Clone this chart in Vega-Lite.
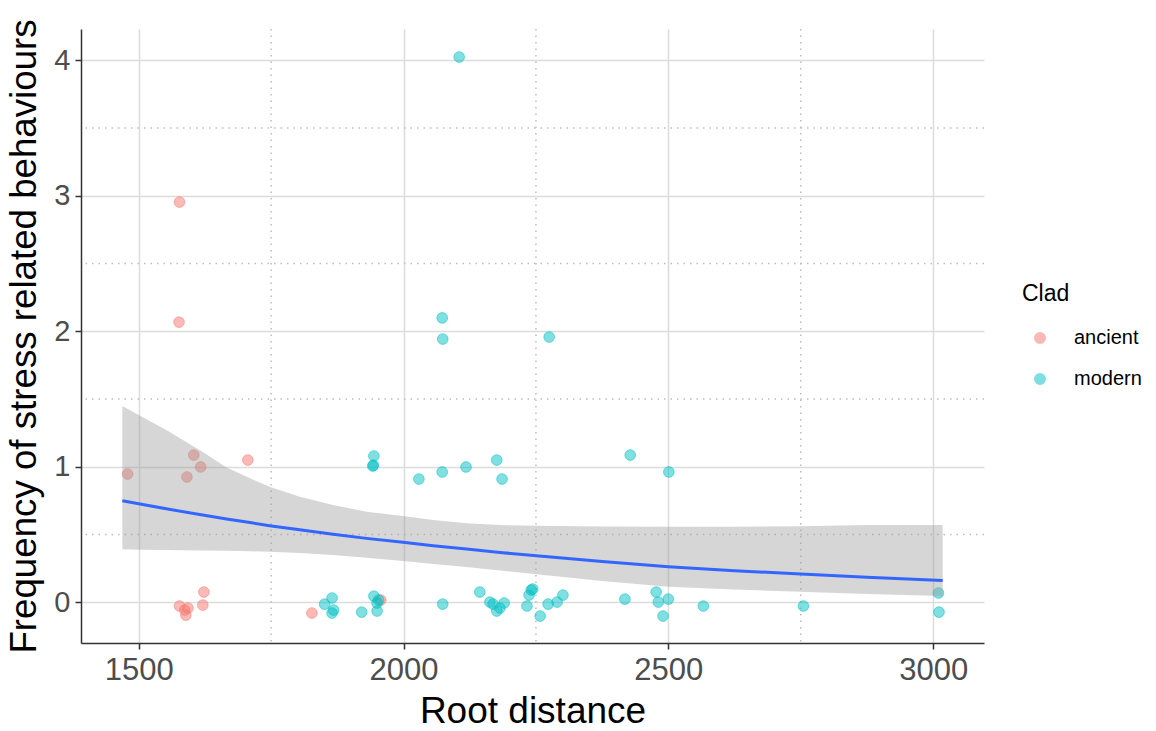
{
  "$schema": "https://vega.github.io/schema/vega-lite/v6.json",
  "autosize": {"type": "none"},
  "width": 903,
  "height": 614,
  "padding": {"left": 81, "top": 29, "right": 172, "bottom": 88},
  "background": "white",
  "config": {
    "font": "Liberation Sans",
    "view": {"stroke": null},
    "axis": {
      "domainColor": "#333333", "domainWidth": 1.5,
      "tickColor": "#333333", "tickWidth": 1.5, "tickSize": 6,
      "gridColor": "#DCDCDC", "gridWidth": 1.5,
      "labelColor": "#4D4D4D", "labelFont": "Liberation Sans",
      "titleColor": "#000000", "titleFont": "Liberation Sans", "titleFontWeight": "normal"
    }
  },
  "datasets": {
    "pts": [
      {"root": 1479, "freq": 0.947, "clad": "ancient"},
      {"root": 1577, "freq": 2.954, "clad": "ancient"},
      {"root": 1576, "freq": 2.068, "clad": "ancient"},
      {"root": 1604, "freq": 1.087, "clad": "ancient"},
      {"root": 1617, "freq": 0.999, "clad": "ancient"},
      {"root": 1591, "freq": 0.925, "clad": "ancient"},
      {"root": 1706, "freq": 1.050, "clad": "ancient"},
      {"root": 1577, "freq": -0.027, "clad": "ancient"},
      {"root": 1587, "freq": -0.057, "clad": "ancient"},
      {"root": 1589, "freq": -0.094, "clad": "ancient"},
      {"root": 1593, "freq": -0.042, "clad": "ancient"},
      {"root": 1623, "freq": 0.076, "clad": "ancient"},
      {"root": 1621, "freq": -0.020, "clad": "ancient"},
      {"root": 1827, "freq": -0.079, "clad": "ancient"},
      {"root": 1957, "freq": 0.017, "clad": "ancient"},
      {"root": 1851, "freq": -0.013, "clad": "modern"},
      {"root": 1865, "freq": 0.032, "clad": "modern"},
      {"root": 1868, "freq": -0.057, "clad": "modern"},
      {"root": 1865, "freq": -0.079, "clad": "modern"},
      {"root": 1921, "freq": -0.072, "clad": "modern"},
      {"root": 1944, "freq": 0.046, "clad": "modern"},
      {"root": 1950, "freq": -0.064, "clad": "modern"},
      {"root": 1950, "freq": -0.005, "clad": "modern"},
      {"root": 1953, "freq": 0.017, "clad": "modern"},
      {"root": 2074, "freq": -0.013, "clad": "modern"},
      {"root": 2144, "freq": 0.076, "clad": "modern"},
      {"root": 2163, "freq": 0.002, "clad": "modern"},
      {"root": 2169, "freq": -0.013, "clad": "modern"},
      {"root": 2176, "freq": -0.064, "clad": "modern"},
      {"root": 2190, "freq": -0.005, "clad": "modern"},
      {"root": 2182, "freq": -0.042, "clad": "modern"},
      {"root": 2233, "freq": -0.027, "clad": "modern"},
      {"root": 2237, "freq": 0.054, "clad": "modern"},
      {"root": 2241, "freq": 0.091, "clad": "modern"},
      {"root": 2244, "freq": 0.098, "clad": "modern"},
      {"root": 2258, "freq": -0.101, "clad": "modern"},
      {"root": 2273, "freq": -0.013, "clad": "modern"},
      {"root": 2290, "freq": 0.002, "clad": "modern"},
      {"root": 2301, "freq": 0.054, "clad": "modern"},
      {"root": 2418, "freq": 0.024, "clad": "modern"},
      {"root": 2477, "freq": 0.076, "clad": "modern"},
      {"root": 2481, "freq": 0.002, "clad": "modern"},
      {"root": 2500, "freq": 0.024, "clad": "modern"},
      {"root": 2490, "freq": -0.101, "clad": "modern"},
      {"root": 2566, "freq": -0.027, "clad": "modern"},
      {"root": 2755, "freq": -0.027, "clad": "modern"},
      {"root": 3010, "freq": 0.069, "clad": "modern"},
      {"root": 3011, "freq": -0.072, "clad": "modern"},
      {"root": 1944, "freq": 1.080, "clad": "modern"},
      {"root": 1942, "freq": 1.006, "clad": "modern"},
      {"root": 1943, "freq": 1.012, "clad": "modern"},
      {"root": 2029, "freq": 0.910, "clad": "modern"},
      {"root": 2073, "freq": 0.962, "clad": "modern"},
      {"root": 2118, "freq": 0.999, "clad": "modern"},
      {"root": 2176, "freq": 1.050, "clad": "modern"},
      {"root": 2186, "freq": 0.910, "clad": "modern"},
      {"root": 2105, "freq": 4.024, "clad": "modern"},
      {"root": 2073, "freq": 2.099, "clad": "modern"},
      {"root": 2074, "freq": 1.943, "clad": "modern"},
      {"root": 2275, "freq": 1.958, "clad": "modern"},
      {"root": 2428, "freq": 1.087, "clad": "modern"},
      {"root": 2501, "freq": 0.962, "clad": "modern"}
    ],
    "fit": [
      {"root": 1469, "fit": 0.750, "lo": 0.391, "hi": 1.449},
      {"root": 1500, "fit": 0.727, "lo": 0.389, "hi": 1.382},
      {"root": 1552, "fit": 0.690, "lo": 0.386, "hi": 1.271},
      {"root": 1615, "fit": 0.648, "lo": 0.383, "hi": 1.124},
      {"root": 1666, "fit": 0.615, "lo": 0.380, "hi": 0.996},
      {"root": 1710, "fit": 0.589, "lo": 0.377, "hi": 0.915},
      {"root": 1747, "fit": 0.566, "lo": 0.373, "hi": 0.853},
      {"root": 1804, "fit": 0.535, "lo": 0.364, "hi": 0.779},
      {"root": 1867, "fit": 0.502, "lo": 0.349, "hi": 0.718},
      {"root": 1930, "fit": 0.472, "lo": 0.330, "hi": 0.669},
      {"root": 1999, "fit": 0.443, "lo": 0.305, "hi": 0.637},
      {"root": 2056, "fit": 0.418, "lo": 0.283, "hi": 0.607},
      {"root": 2119, "fit": 0.393, "lo": 0.260, "hi": 0.583},
      {"root": 2182, "fit": 0.368, "lo": 0.235, "hi": 0.570},
      {"root": 2251, "fit": 0.344, "lo": 0.207, "hi": 0.565},
      {"root": 2375, "fit": 0.302, "lo": 0.157, "hi": 0.560},
      {"root": 2500, "fit": 0.263, "lo": 0.115, "hi": 0.558},
      {"root": 2625, "fit": 0.234, "lo": 0.094, "hi": 0.558},
      {"root": 2750, "fit": 0.209, "lo": 0.078, "hi": 0.562},
      {"root": 2875, "fit": 0.185, "lo": 0.061, "hi": 0.570},
      {"root": 3018, "fit": 0.162, "lo": 0.046, "hi": 0.570}
    ],
    "gridx": [{"v": 1750}, {"v": 2250}, {"v": 2750}],
    "gridy": [{"v": 0.5}, {"v": 1.5}, {"v": 2.5}, {"v": 3.5}]
  },
  "layer": [
    {
      "data": {"name": "gridx"},
      "mark": {"type": "rule", "color": "#BDBDBD", "strokeWidth": 1.5, "strokeDash": [1.5, 5]},
      "encoding": {"x": {"field": "v", "type": "quantitative", "scale": {"domain": [1391, 3096], "nice": false, "zero": false}}}
    },
    {
      "data": {"name": "gridy"},
      "mark": {"type": "rule", "color": "#BDBDBD", "strokeWidth": 1.5, "strokeDash": [1.5, 5]},
      "encoding": {"y": {"field": "v", "type": "quantitative", "scale": {"domain": [-0.3, 4.231], "nice": false, "zero": false}}}
    },
    {
      "data": {"name": "pts"},
      "mark": {"type": "point", "filled": true, "shape": "circle", "size": 115, "fillOpacity": 0.5, "strokeOpacity": 0.5, "strokeWidth": 1},
      "encoding": {
        "x": {"field": "root", "type": "quantitative", "scale": {"domain": [1391, 3096], "nice": false, "zero": false},
          "axis": {"values": [1500, 2000, 2500, 3000], "format": "d", "title": "Root distance", "labelFontSize": 31, "titleFontSize": 37, "labelPadding": 6, "titlePadding": 8, "labelFlush": false}},
        "y": {"field": "freq", "type": "quantitative", "scale": {"domain": [-0.3, 4.231], "nice": false, "zero": false},
          "axis": {"values": [0, 1, 2, 3, 4], "format": "d", "title": "Frequency of stress related behaviours", "labelFontSize": 29, "titleFontSize": 36.7, "labelPadding": 5, "titlePadding": 10, "labelFlush": false}},
        "color": {"field": "clad", "type": "nominal", "scale": {"domain": ["ancient", "modern"], "range": ["#F8766D", "#00BFC4"]},
          "legend": {"title": "Clad", "orient": "none", "legendX": 941, "legendY": 254, "titleFontSize": 23, "titleFontWeight": "normal", "titleColor": "#000000", "titlePadding": 22, "labelFontSize": 20, "labelColor": "#000000", "rowPadding": 21, "symbolOffset": 8, "labelOffset": 24, "symbolSize": 110, "symbolOpacity": 0.5, "padding": 0}},
        "stroke": {"field": "clad", "type": "nominal", "scale": {"domain": ["ancient", "modern"], "range": ["#F8766D", "#00BFC4"]}, "legend": null}
      }
    },
    {
      "data": {"name": "fit"},
      "mark": {"type": "area", "color": "#999999", "opacity": 0.4},
      "encoding": {
        "x": {"field": "root", "type": "quantitative"},
        "y": {"field": "lo", "type": "quantitative"},
        "y2": {"field": "hi"}
      }
    },
    {
      "data": {"name": "fit"},
      "mark": {"type": "line", "color": "#3366FF", "strokeWidth": 3},
      "encoding": {
        "x": {"field": "root", "type": "quantitative"},
        "y": {"field": "fit", "type": "quantitative"}
      }
    }
  ]
}
